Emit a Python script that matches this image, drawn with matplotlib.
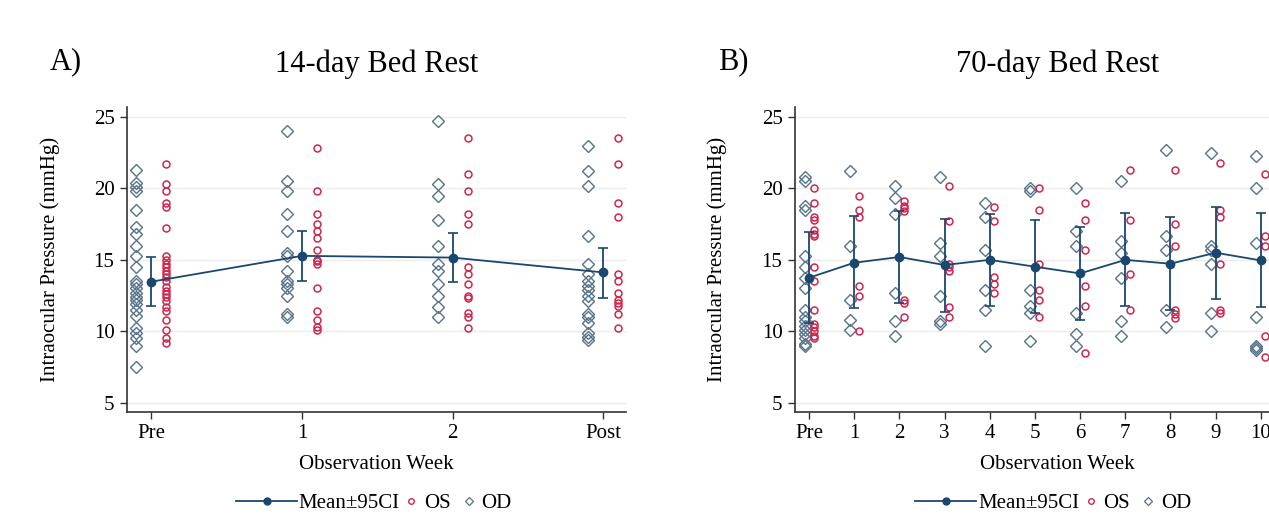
import matplotlib
matplotlib.use("Agg")
import matplotlib.pyplot as plt
from matplotlib.lines import Line2D

plt.rcParams["font.family"] = ["Liberation Serif", "DejaVu Serif"]

# 14-day bed rest (panel A)
a_labels = ["Pre", "1", "2", "Post"]
a_od = [
    [21.3, 20.4, 20.1, 19.8, 18.5, 17.3, 16.8, 16.0, 15.3, 14.5, 13.5, 13.3,
     13.0, 12.7, 12.4, 12.2, 11.9, 11.5, 11.1, 10.2, 9.9, 9.5, 9.0, 7.5],
    [24.0, 20.5, 19.8, 18.2, 17.0, 15.5, 15.3, 14.2, 13.5, 13.3, 13.0, 12.5, 11.2, 11.0],
    [24.7, 20.3, 19.5, 17.8, 16.0, 14.7, 14.2, 13.3, 12.5, 11.7, 11.0],
    [23.0, 21.2, 20.2, 16.7, 14.7, 14.0, 13.5, 13.2, 12.9, 12.5, 12.1, 11.2,
     11.0, 10.6, 9.9, 9.6, 9.4],
]
a_os = [
    [21.7, 20.3, 19.8, 19.0, 18.7, 17.2, 15.3, 15.0, 14.7, 14.5, 14.2, 14.0,
     13.8, 13.5, 13.1, 12.8, 12.6, 12.4, 12.1, 11.7, 11.4, 10.8, 10.1, 9.5, 9.2],
    [22.8, 19.8, 18.2, 17.5, 17.0, 16.5, 15.7, 15.0, 14.9, 14.7, 13.0, 11.4,
     10.8, 10.3, 10.1],
    [23.5, 21.0, 19.8, 18.2, 17.5, 14.5, 14.0, 13.3, 12.5, 12.3, 11.3, 11.0, 10.2],
    [23.5, 21.7, 19.0, 18.0, 14.0, 13.5, 12.7, 12.2, 12.0, 11.8, 11.2, 10.2],
]
a_mean = [13.47, 15.28, 15.16, 14.12]
a_lo = [11.79, 13.53, 13.42, 12.30]
a_hi = [15.21, 17.02, 16.90, 15.86]

# 70-day bed rest (panel B)
b_labels = ["Pre", "1", "2", "3", "4", "5", "6", "7", "8", "9", "10", "Post"]
b_od = [
    [20.8, 20.5, 18.8, 18.5, 15.3, 14.5, 13.7, 13.0, 11.5, 11.0, 10.7, 10.4,
     10.1, 9.8, 9.5, 9.1, 9.0],
    [21.2, 16.0, 12.2, 10.8, 10.1],
    [20.2, 19.3, 18.2, 12.7, 10.7, 9.7],
    [20.8, 16.2, 15.3, 12.5, 10.7, 10.5],
    [19.0, 18.0, 15.7, 12.9, 11.5, 9.0],
    [20.0, 19.8, 12.9, 11.8, 11.3, 9.3],
    [20.0, 17.0, 16.0, 11.3, 9.8, 9.0],
    [20.5, 16.3, 15.5, 13.7, 10.7, 9.7],
    [22.7, 16.7, 15.7, 11.5, 10.3],
    [22.5, 16.0, 15.7, 14.7, 11.3, 10.0],
    [22.3, 20.0, 16.2, 11.0, 9.0, 8.8, 8.7],
]
b_os = [
    [20.0, 19.0, 18.0, 17.8, 17.1, 16.8, 16.7, 14.5, 13.5, 11.5, 10.5, 10.3,
     10.0, 9.7, 9.5],
    [19.5, 18.5, 18.0, 13.2, 12.5, 10.0],
    [19.1, 18.8, 18.6, 18.4, 12.2, 12.0, 11.0],
    [20.2, 17.7, 14.7, 14.5, 14.2, 11.7, 11.0],
    [18.7, 17.7, 13.8, 13.3, 12.7],
    [20.0, 18.5, 14.7, 12.9, 12.2, 11.0],
    [19.0, 17.8, 15.7, 13.2, 11.8, 8.5],
    [21.3, 17.8, 14.0, 11.5],
    [21.3, 17.5, 16.0, 11.5, 11.2, 10.9],
    [21.8, 18.5, 18.0, 14.7, 11.5, 11.3],
    [21.0, 16.7, 16.0, 9.7, 8.2],
]
b_mean = [13.75, 14.80, 15.20, 14.64, 15.00, 14.52, 14.05, 15.00, 14.73, 15.50, 14.96]
b_lo = [10.60, 11.60, 11.95, 11.37, 11.77, 11.30, 10.78, 11.77, 11.46, 12.23, 11.70]
b_hi = [16.95, 18.07, 18.42, 17.83, 18.23, 17.79, 17.30, 18.26, 18.00, 18.72, 18.26]

NAVY = "#1a476f"
RED = "#d0264e"
BLUE = "#56728c"
GRID = "#ececec"


def draw_panel(ax, labels, od, os_, mean, lo, hi, xlim, title, ylab_x, split):
    for i, vals in enumerate(od):
        ax.plot([i - 0.1] * len(vals), vals, linestyle="none", marker="D",
                ms=6.3, mfc="none", mec=BLUE, mew=1.0, zorder=3)
    for i, vals in enumerate(os_):
        ax.plot([i + 0.1] * len(vals), vals, linestyle="none", marker="o",
                ms=5.0, mfc="none", mec=RED, mew=1.1, zorder=3)
    xs = list(range(len(mean)))
    err = [[m - l for m, l in zip(mean, lo)], [h - m for m, h in zip(mean, hi)]]
    ax.errorbar(xs, mean, yerr=err, color=NAVY, lw=1.3, elinewidth=1.3,
                capsize=3.5, capthick=1.2, marker="o", ms=6, zorder=4)

    ax.set_xlim(*xlim)
    ax.set_ylim(4.35, 25.7)
    ax.set_xticks(range(len(labels)))
    ax.set_xticklabels(labels)
    ax.set_yticks([5, 10, 15, 20, 25])
    ax.grid(axis="y", color=GRID, lw=1.0)
    ax.set_axisbelow(True)
    for s in ["top", "right"]:
        ax.spines[s].set_visible(False)
    for s in ["left", "bottom"]:
        ax.spines[s].set_color("#333333")
        ax.spines[s].set_linewidth(1.2)
    ax.tick_params(labelsize=15, length=5, width=1.0, color="#333333", pad=4)

    ax.set_ylabel("Intraocular Pressure (mmHg)", fontsize=15)
    ax.yaxis.set_label_coords(ylab_x, 0.5)
    ax.set_xlabel("Observation Week", fontsize=15)
    ax.xaxis.set_label_coords(0.5, -0.14)

    ax.text(0.5, 1.14, title, transform=ax.transAxes, ha="center",
            va="center", fontsize=22)

    h1 = [Line2D([], [], color=NAVY, lw=1.3, marker="o", ms=5)]
    leg1 = ax.legend(h1, ["Mean\u00b195CI"], loc="center right",
                     bbox_to_anchor=(split, -0.3), frameon=False, fontsize=15,
                     handlelength=2.9, handletextpad=0.1, borderpad=0,
                     borderaxespad=0)
    ax.add_artist(leg1)
    h2 = [Line2D([], [], ls="none", marker="o", ms=4, mfc="none", mec=RED, mew=1.0),
          Line2D([], [], ls="none", marker="D", ms=4.2, mfc="none", mec=BLUE, mew=0.9)]
    ax.legend(h2, ["OS", "OD"], loc="center left", bbox_to_anchor=(split + 0.01, -0.3),
              frameon=False, fontsize=15, ncol=2, handlelength=0.6,
              handletextpad=0.3, columnspacing=0.6, borderpad=0, borderaxespad=0)


fig = plt.figure(figsize=(12.69, 5.17), dpi=100)
ax_a = fig.add_axes([0.1001, 0.2031, 0.3932, 0.5899])
ax_b = fig.add_axes([0.6265, 0.2031, 0.4137, 0.5899])

draw_panel(ax_a, a_labels, a_od, a_os, a_mean, a_lo, a_hi, (-0.16, 3.15),
           "14-day Bed Rest", -0.134, 0.547)
draw_panel(ax_b, b_labels, b_od, b_os, b_mean, b_lo, b_hi, (-0.31, 11.31),
           "70-day Bed Rest", -0.130, 0.541)

fig.text(50 / 1269, 1 - 62 / 517, "A)", fontsize=22, ha="left", va="center")
fig.text(718 / 1269, 1 - 62 / 517, "B)", fontsize=22, ha="left", va="center")

fig.savefig("out.png", dpi=100)
